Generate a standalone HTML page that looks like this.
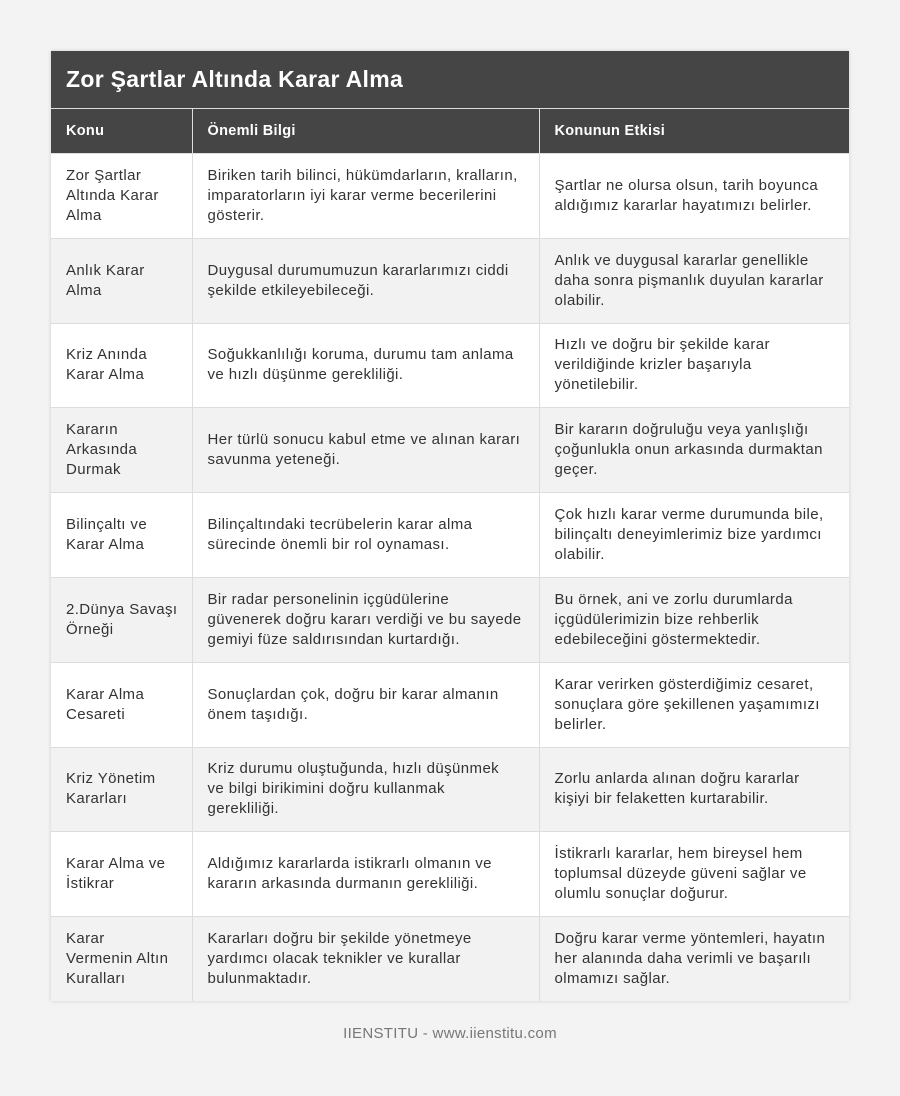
<!DOCTYPE html>
<html><head><meta charset="utf-8"><style>
body{margin:0;background:#f3f3f3;font-family:"Liberation Sans","DejaVu Sans",sans-serif;}
.wrap{position:absolute;left:51px;top:51px;width:798px;box-shadow:0 0 4px rgba(0,0,0,.15);}
.title{height:57px;background:#454545;color:#fff;font-weight:bold;font-size:23px;line-height:57px;padding-left:15px;box-sizing:border-box;letter-spacing:0.3px;}
table{border-collapse:collapse;width:798px;table-layout:fixed;}
th{background:#454545;color:#fff;font-size:14.5px;text-align:left;height:45px;padding:0 15px;border-left:1px solid #ddd;border-top:1px solid #ddd;box-sizing:border-box;letter-spacing:0.3px;}
th:first-child,td:first-child{border-left:none}
td{height:84.8px;padding:0 14px 0 15px;font-size:15px;letter-spacing:0.4px;line-height:20px;color:#333;border-left:1px solid #ddd;border-top:1px solid #ddd;box-sizing:border-box;}
tr:nth-child(odd) td{background:#f2f2f2}
tr:nth-child(even) td{background:#fff}
.foot{position:absolute;top:1025px;width:900px;text-align:center;color:#777;font-size:15px;letter-spacing:0.3px;}
</style></head><body>
<div class="wrap">
<div class="title">Zor Şartlar Altında Karar Alma</div>
<table>
<colgroup><col style="width:141px"><col style="width:347px"><col style="width:310px"></colgroup>
<tr><th>Konu</th><th>Önemli Bilgi</th><th>Konunun Etkisi</th></tr>
<tr><td>Zor Şartlar Altında Karar Alma</td><td>Biriken tarih bilinci, hükümdarların, kralların, imparatorların iyi karar verme becerilerini gösterir.</td><td>Şartlar ne olursa olsun, tarih boyunca aldığımız kararlar hayatımızı belirler.</td></tr>
<tr><td>Anlık Karar Alma</td><td>Duygusal durumumuzun kararlarımızı ciddi şekilde etkileyebileceği.</td><td>Anlık ve duygusal kararlar genellikle daha sonra pişmanlık duyulan kararlar olabilir.</td></tr>
<tr><td>Kriz Anında Karar Alma</td><td>Soğukkanlılığı koruma, durumu tam anlama ve hızlı düşünme gerekliliği.</td><td>Hızlı ve doğru bir şekilde karar verildiğinde krizler başarıyla yönetilebilir.</td></tr>
<tr><td>Kararın Arkasında Durmak</td><td>Her türlü sonucu kabul etme ve alınan kararı savunma yeteneği.</td><td>Bir kararın doğruluğu veya yanlışlığı çoğunlukla onun arkasında durmaktan geçer.</td></tr>
<tr><td>Bilinçaltı ve Karar Alma</td><td>Bilinçaltındaki tecrübelerin karar alma sürecinde önemli bir rol oynaması.</td><td>Çok hızlı karar verme durumunda bile, bilinçaltı deneyimlerimiz bize yardımcı olabilir.</td></tr>
<tr><td>2.Dünya Savaşı Örneği</td><td>Bir radar personelinin içgüdülerine güvenerek doğru kararı verdiği ve bu sayede gemiyi füze saldırısından kurtardığı.</td><td>Bu örnek, ani ve zorlu durumlarda içgüdülerimizin bize rehberlik edebileceğini göstermektedir.</td></tr>
<tr><td>Karar Alma Cesareti</td><td>Sonuçlardan çok, doğru bir karar almanın önem taşıdığı.</td><td>Karar verirken gösterdiğimiz cesaret, sonuçlara göre şekillenen yaşamımızı belirler.</td></tr>
<tr><td>Kriz Yönetim Kararları</td><td>Kriz durumu oluştuğunda, hızlı düşünmek<br>ve bilgi birikimini doğru kullanmak<br>gerekliliği.</td><td>Zorlu anlarda alınan doğru kararlar kişiyi bir felaketten kurtarabilir.</td></tr>
<tr><td>Karar Alma ve İstikrar</td><td>Aldığımız kararlarda istikrarlı olmanın ve kararın arkasında durmanın gerekliliği.</td><td>İstikrarlı kararlar, hem bireysel hem toplumsal düzeyde güveni sağlar ve olumlu sonuçlar doğurur.</td></tr>
<tr><td>Karar<br>Vermenin Altın Kuralları</td><td>Kararları doğru bir şekilde yönetmeye yardımcı olacak teknikler ve kurallar bulunmaktadır.</td><td>Doğru karar verme yöntemleri, hayatın her alanında daha verimli ve başarılı olmamızı sağlar.</td></tr>
</table>
</div>
<div class="foot">IIENSTITU - www.iienstitu.com</div>
</body></html>
